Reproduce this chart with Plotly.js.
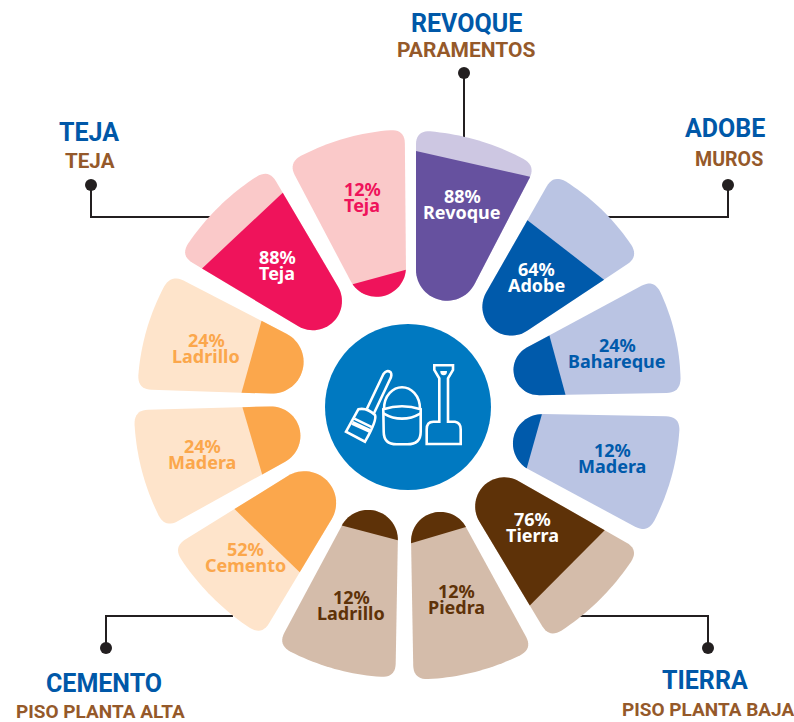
<!DOCTYPE html>
<html><head><meta charset="utf-8">
<script src="https://cdn.plot.ly/plotly-3.0.1.min.js"></script>
<style>html,body{margin:0;padding:0;background:#fff}#c{width:794px;height:722px}</style>
</head><body><div id="c"></div>
<script>
// ---- data ----
const materials = ['Revoque','Adobe','Bahareque','Madera','Tierra','Piedra','Ladrillo','Cemento','Madera','Ladrillo','Teja','Teja'];
const percents  = [88,64,24,12,76,12,12,52,24,24,88,12];
const groups    = ['Revoque','Adobe','Adobe','Adobe','Tierra','Tierra','Tierra','Cemento','Cemento','Cemento','Teja','Teja'];
const groupTitles = ['REVOQUE','ADOBE','TIERRA','CEMENTO','TEJA'];
const groupParts  = ['PARAMENTOS','MUROS','PISO PLANTA BAJA','PISO PLANTA ALTA','TEJA'];

// ---- styles ----
const palette = {
  Revoque:{dark:'#66519F',light:'#CDC7E2'},
  Adobe:{dark:'#005AAB',light:'#BAC4E3'},
  Tierra:{dark:'#5E3208',light:'#D4BCAA'},
  Cemento:{dark:'#FBA74C',light:'#FEE4CB'},
  Teja:{dark:'#EF135B',light:'#FAC9C9'}
};
// ---- petal layout (pixels around the hub; one row per petal) ----
const hub = {x:408,y:403,R:300};
const petalGeom = [
 // apexX apexY edge1 edge2 tip len1 len2 nudge tilt
 [416,397,  0.0, 27.4,100,266.5,260.5,-.024, 2],
 [426,398, 29.7, 56.4, 96,257.5,255.5, .03,10],
 [435,397, 61.7, 89.0, 82,248.5,245.5, .03, 1],
 [422,412, 91.0,118.3, 95,258,256, .01,-2],
 [422,426,119.7,149.0, 86,249.5,247.5,-.04,-1],
 [409,423,151.3,179.0, 93,257.5,256.5, .02, 3],
 [400,417,181.0,208.2, 97,260.5,258.5, .02, 0],
 [399,407,211.0,238.2,103,266.5,265.5, .00, 1],
 [391,403,241.0,268.4, 95,258,257, .06, 2],
 [411,398,271.8,297.3,112,273.5,270, .09,-2],
 [396,385,301.0,329.5, 89,251.5,250.5,-.085,-3],
 [407,388,332.2,359.5, 95,254.5,258.5, .00, 2]
];
const labelPos = [[462,204],[536.5,277],[617,353],[612,458],[532,527],[456,599],[351,605],[245,557],[202,454],[206,348],[277,265],[362,197]];
const headPos = [[466,23,466,50],[725,128,729,159],[705,680,708,709],[104,683,100,711],[89,132,90,161]];
const partSizes = [21,19.6,19,19,20.6];
const leaders = [
 {x:[464,464],y:[73,138]},
 {x:[728,728,604],y:[185,217,217]},
 {x:[708,708,580],y:[648,616,616]},
 {x:[106,106,233],y:[648,616,616]},
 {x:[91,91,210],y:[185,217,217]}
];

const rad = d=>d*Math.PI/180;
const dir = b=>[Math.sin(rad(b)),-Math.cos(rad(b))];
function outline(g){
  const [ax,ay,e1,e2,tip,L1,L2]=g, b=(e1+e2)/2, h=(e2-e1)/2, a=dir(b), d1=dir(e1), d2=dir(e2);
  const d=tip/(1-Math.sin(rad(h))), r=d*Math.sin(rad(h));
  const C=[ax+a[0]*d,ay+a[1]*d];
  const O1=[ax+d1[0]*L1,ay+d1[1]*L1], O2=[ax+d2[0]*L2,ay+d2[1]*L2];
  const sag=8, M=[(O1[0]+O2[0])/2+a[0]*2*sag,(O1[1]+O2[1])/2+a[1]*2*sag];
  const arc=s=>[(1-s)*(1-s)*O1[0]+2*s*(1-s)*M[0]+s*s*O2[0],(1-s)*(1-s)*O1[1]+2*s*(1-s)*M[1]+s*s*O2[1]];
  const chord=Math.hypot(O2[0]-O1[0],O2[1]-O1[1]), t=14, ts=t/chord;
  const pts=[];
  const quad=(P,K,Q)=>{for(let i=0;i<=10;i++){const s=i/10;pts.push([(1-s)*(1-s)*P[0]+2*s*(1-s)*K[0]+s*s*Q[0],(1-s)*(1-s)*P[1]+2*s*(1-s)*K[1]+s*s*Q[1]]);}};
  for(let i=0;i<=30;i++){const ph=(e1-90)+(e2-270-(e1-90))*i/30,v=dir(ph);pts.push([C[0]+r*v[0],C[1]+r*v[1]]);}
  pts.reverse();
  quad([ax+d1[0]*(L1-t),ay+d1[1]*(L1-t)],O1,arc(ts));
  for(let i=1;i<20;i++)pts.push(arc(ts+(1-2*ts)*i/20));
  quad(arc(1-ts),O2,[ax+d2[0]*(L2-t),ay+d2[1]*(L2-t)]);
  return pts;
}
function clip(pts,f){
  const out=[];
  for(let i=0;i<pts.length;i++){
    const P=pts[i],Q=pts[(i+1)%pts.length],fp=f(P),fq=f(Q);
    if(fp<=0)out.push(P);
    if((fp<0&&fq>0)||(fp>0&&fq<0)){const s=fp/(fp-fq);out.push([P[0]+(Q[0]-P[0])*s,P[1]+(Q[1]-P[1])*s]);}
  }
  return out;
}
function toPolar(pts){
  const r=[],theta=[];
  pts.forEach(p=>{const dx=p[0]-hub.x,dy=p[1]-hub.y;r.push(Math.hypot(dx,dy));theta.push(Math.atan2(dx,-dy)*180/Math.PI);});
  r.push(r[0]);theta.push(theta[0]);
  return {r,theta};
}
const traces=[], annotations=[];
materials.forEach((m,i)=>{
  const g=petalGeom[i],c=palette[groups[i]],[ax,ay,e1,e2,tip,L1,L2,nudge,tilt]=g;
  const b=(e1+e2)/2,a=dir(b),n=[Math.cos(rad(b)),Math.sin(rad(b))];
  const split=tip+((L1+L2)/2-tip)*(percents[i]/100+nudge);
  const full=outline(g);
  const f=p=>{const x=p[0]-ax,y=p[1]-ay;return x*a[0]+y*a[1]-split-tilt*(x*n[0]+y*n[1])/110;};
  traces.push(Object.assign({type:'scatterpolar',mode:'lines',fill:'toself',fillcolor:c.light,line:{width:0,color:c.light},hoverinfo:'skip',showlegend:false,name:m+' resto',subplot:'polar'},toPolar(full)));
  traces.push(Object.assign({type:'scatterpolar',mode:'lines',fill:'toself',fillcolor:c.dark,line:{width:0,color:c.dark},hoverinfo:'skip',showlegend:false,name:m+' '+percents[i]+'%',subplot:'polar'},toPolar(clip(full,f))));
  const col=percents[i]>=60?'#FFFFFF':c.dark;
  const [lx,ly]=labelPos[i];
  const font={family:'"Noto Sans",sans-serif',size:18,weight:700,color:col};
  annotations.push({x:lx,y:ly-8,xref:'x',yref:'y',text:percents[i]+'%',showarrow:false,font,xanchor:'center',yanchor:'middle'});
  annotations.push({x:lx,y:ly+8,xref:'x',yref:'y',text:m,showarrow:false,font,xanchor:'center',yanchor:'middle'});
});
leaders.forEach((l,i)=>{
  traces.push({type:'scatter',mode:'lines',x:l.x,y:l.y,xaxis:'x',yaxis:'y',line:{color:'#231F20',width:2},hoverinfo:'skip',showlegend:false});
  traces.push({type:'scatter',mode:'markers',x:[l.x[0]],y:[l.y[0]],xaxis:'x',yaxis:'y',marker:{color:'#231F20',size:12},hoverinfo:'skip',showlegend:false});
  const [tx,ty,sx,sy]=headPos[i];
  annotations.push({x:tx,y:ty,xref:'x',yref:'y',text:groupTitles[i],showarrow:false,xanchor:'center',yanchor:'middle',font:{family:'Roboto,sans-serif',size:25,weight:700,color:'#0058A8'}});
  annotations.push({x:sx,y:sy,xref:'x',yref:'y',text:groupParts[i],showarrow:false,xanchor:'center',yanchor:'middle',font:{family:'Roboto,sans-serif',size:partSizes[i],weight:700,color:'#95592A'}});
});
// icon (white line drawing on the blue hub)
const ic=(zx,zy)=>(320+zx/3).toFixed(1)+','+(320+zy/3).toFixed(1);
const icon=[
 `M${ic(343,136)} L${ic(399,136)} L${ic(399,150)} L${ic(384,175)} L${ic(384,305)} L${ic(405,305)} Q${ic(422,308)} ${ic(422,328)} L${ic(422,372)} L${ic(320,372)} L${ic(320,328)} Q${ic(320,305)} ${ic(340,305)} L${ic(358,305)} L${ic(358,175)} L${ic(343,150)} Z`,
 `M${ic(192,268)} C${ic(192,225)} ${ic(220,202)} ${ic(246,202)} C${ic(272,202)} ${ic(300,225)} ${ic(300,268)}`,
 `M${ic(190,268)} Q${ic(246,250)} ${ic(302,268)} L${ic(302,335)} Q${ic(302,373)} ${ic(262,373)} L${ic(230,373)} Q${ic(191,373)} ${ic(191,335)} Z`,
 `M${ic(190,280)} Q${ic(246,312)} ${ic(302,280)}`,
 `M${ic(140,268)} L${ic(190,163)} Q${ic(200,148)} ${ic(212,157)} Q${ic(217,165)} ${ic(210,178)} L${ic(162,280)}`,
 `M${ic(115,268)} Q${ic(140,262)} ${ic(165,285)} Q${ic(172,300)} ${ic(135,365)} L${ic(78,335)} Z`,
 `M${ic(103,296)} L${ic(157,322)}`
];
const shapes=[{type:'circle',xref:'x',yref:'y',x0:325,x1:491,y0:324,y1:490,fillcolor:'#0079C1',line:{width:0}}];
icon.forEach(p=>shapes.push({type:'path',xref:'x',yref:'y',path:p,line:{color:'#FFFFFF',width:2.6},fillcolor:'rgba(0,0,0,0)'}));
shapes.push({type:'path',xref:'x',yref:'y',path:`M${ic(361,153)} L${ic(381,153)} Q${ic(381,166)} ${ic(371,166)} Q${ic(361,166)} ${ic(361,153)} Z`,fillcolor:'#FFFFFF',line:{width:0}});
shapes.push({type:'path',xref:'x',yref:'y',path:`M${ic(100,303)} L${ic(153,328)} L${ic(147,338)} L${ic(94,314)} Z`,fillcolor:'#FFFFFF',line:{width:0}});

const layout={
  width:794,height:722,margin:{l:0,r:0,t:0,b:0},paper_bgcolor:'#fff',plot_bgcolor:'rgba(0,0,0,0)',showlegend:false,
  xaxis:{range:[0,794],visible:false,fixedrange:true,domain:[0,1]},
  yaxis:{range:[722,0],visible:false,fixedrange:true,domain:[0,1]},
  polar:{
    domain:{x:[(hub.x-hub.R)/794,(hub.x+hub.R)/794],y:[(722-hub.y-hub.R)/722,(722-hub.y+hub.R)/722]},
    bgcolor:'rgba(0,0,0,0)',
    radialaxis:{range:[0,hub.R],visible:false},
    angularaxis:{rotation:90,direction:'clockwise',visible:false}
  },
  shapes,annotations
};
Plotly.newPlot('c',traces,layout,{displayModeBar:false,staticPlot:true});
</script></body></html>
